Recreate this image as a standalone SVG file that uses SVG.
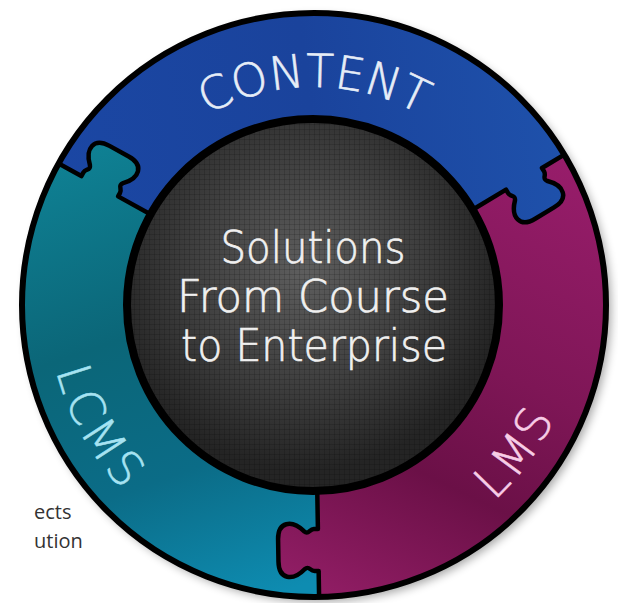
<svg xmlns="http://www.w3.org/2000/svg" xmlns:xlink="http://www.w3.org/1999/xlink" width="618" height="603" viewBox="0 0 618 603">
<style>
.joint{fill:none;stroke:#000;stroke-width:4.5;stroke-linejoin:round;stroke-linecap:round}
.lbl{font-family:"DejaVu Sans","Liberation Sans",sans-serif;font-weight:200;stroke-width:0.6}
.ctr{font-family:"DejaVu Sans","Liberation Sans",sans-serif;font-weight:200;font-size:45px;fill:#f0f0f0;stroke:#f0f0f0;stroke-width:0.7;text-anchor:middle}
.side{font-family:"Open Sans","Liberation Sans",sans-serif;font-size:20px;fill:#333}
</style>
<defs>
  <linearGradient id="g-blue" gradientUnits="userSpaceOnUse" x1="40" y1="220" x2="600" y2="150">
    <stop offset="0" stop-color="#1b47a4"/>
    <stop offset="0.5" stop-color="#1a439c"/>
    <stop offset="1" stop-color="#1f53ad"/>
  </linearGradient>
  <linearGradient id="g-teal" gradientUnits="userSpaceOnUse" x1="100" y1="140" x2="260" y2="600">
    <stop offset="0" stop-color="#0f8194"/>
    <stop offset="0.4" stop-color="#0b6678"/>
    <stop offset="0.7" stop-color="#0b6c87"/>
    <stop offset="1" stop-color="#0e8cb1"/>
  </linearGradient>
  <linearGradient id="g-mag" gradientUnits="userSpaceOnUse" x1="560" y1="150" x2="340" y2="600">
    <stop offset="0" stop-color="#981d6b"/>
    <stop offset="0.45" stop-color="#7e1656"/>
    <stop offset="0.7" stop-color="#6b1047"/>
    <stop offset="1" stop-color="#901d64"/>
  </linearGradient>
  <radialGradient id="g-hub" gradientUnits="userSpaceOnUse" cx="305" cy="270" r="200">
    <stop offset="0" stop-color="#5e5e5e"/>
    <stop offset="0.6" stop-color="#3d3d3d"/>
    <stop offset="1" stop-color="#242424"/>
  </radialGradient>
  <pattern id="grid" patternUnits="userSpaceOnUse" width="5" height="5">
    <path d="M5 0V5M0 5H5" fill="none" stroke="#000" stroke-opacity="0.28" stroke-width="1"/>
  </pattern>
  <filter id="shadow" x="-10%" y="-10%" width="120%" height="120%">
    <feGaussianBlur stdDeviation="5"/>
  </filter>
  <path id="knob" d="M224 -1 L224 4 C224 9 230 9 226 14 C214 26 216 40 234 40 L256 40 C274 40 276 26 264 14 C260 9 266 9 266 4 L266 -1 Z"/>
  <mask id="m-teal" maskUnits="userSpaceOnUse" x="0" y="0" width="618" height="603">
    <path d="M314 305 L319.76 634.95 A330 330 0 0 1 25.38 145.01 Z" fill="#fff"/>
    <use xlink:href="#knob" href="#knob" fill="#000" transform="translate(314 305) rotate(89)"/>
    <use xlink:href="#knob" href="#knob" fill="#fff" transform="translate(314 305) rotate(209)"/>
  </mask>
  <mask id="m-blue" maskUnits="userSpaceOnUse" x="0" y="0" width="618" height="603">
    <path d="M314 305 L25.38 145.01 A330 330 0 0 1 596.87 135.04 Z" fill="#fff"/>
    <use xlink:href="#knob" href="#knob" fill="#000" transform="translate(314 305) rotate(209)"/>
    <use xlink:href="#knob" href="#knob" fill="#fff" transform="translate(314 305) rotate(329)"/>
  </mask>
  <mask id="m-mag" maskUnits="userSpaceOnUse" x="0" y="0" width="618" height="603">
    <path d="M314 305 L596.87 135.04 A330 330 0 0 1 319.76 634.95 Z" fill="#fff"/>
    <use xlink:href="#knob" href="#knob" fill="#000" transform="translate(314 305) rotate(329)"/>
    <use xlink:href="#knob" href="#knob" fill="#fff" transform="translate(314 305) rotate(89)"/>
  </mask>
  <path id="arc-top" d="M96 305 A218 218 0 0 1 532 305"/>
  <path id="arc-bot" d="M48 305 A266 266 0 0 0 580 305"/>
  <path id="joint-line" d="M186 0 L224 0 L224 4 C224 9 230 9 226 14 C214 26 216 40 234 40 L256 40 C274 40 276 26 264 14 C260 9 266 9 266 4 L266 0 L292 0"/>
</defs>

<rect width="618" height="603" fill="#fff"/>
<circle cx="318" cy="309" r="293" fill="#000" opacity="0.35" filter="url(#shadow)"/>

<g id="content">
  <circle cx="314" cy="305" r="293" fill="url(#g-blue)" mask="url(#m-blue)"/>
  <text class="lbl" font-size="46" fill="#e6edf7" stroke="#e6edf7"><textPath xlink:href="#arc-top" href="#arc-top" startOffset="50%" text-anchor="middle">CONTENT</textPath></text>
</g>
<g id="lcms">
  <circle cx="314" cy="305" r="293" fill="url(#g-teal)" mask="url(#m-teal)"/>
  <text class="lbl" font-size="47" fill="#a6e3f2" stroke="#a6e3f2" letter-spacing="3"><textPath xlink:href="#arc-bot" href="#arc-bot" startOffset="137" text-anchor="middle">LCMS</textPath></text>
</g>
<g id="lms">
  <circle cx="314" cy="305" r="293" fill="url(#g-mag)" mask="url(#m-mag)"/>
  <text class="lbl" font-size="47" fill="#f7cde6" stroke="#f7cde6" letter-spacing="3"><textPath xlink:href="#arc-bot" href="#arc-bot" startOffset="668" text-anchor="middle">LMS</textPath></text>
</g>

<g id="connectors">
  <circle cx="314" cy="305" r="292" fill="none" stroke="#000" stroke-width="6"/>
  <use xlink:href="#joint-line" href="#joint-line" class="joint" transform="translate(314 305) rotate(89)"/>
  <use xlink:href="#joint-line" href="#joint-line" class="joint" transform="translate(314 305) rotate(209)"/>
  <use xlink:href="#joint-line" href="#joint-line" class="joint" transform="translate(314 305) rotate(329)"/>
</g>

<g id="hub">
  <circle cx="313" cy="305" r="186" fill="url(#g-hub)"/>
  <circle cx="313" cy="305" r="186" fill="url(#grid)"/>
  <circle cx="313" cy="305" r="186" fill="none" stroke="#000" stroke-width="8"/>
  <text class="ctr" x="313" y="263" textLength="185" lengthAdjust="spacingAndGlyphs">Solutions</text>
  <text class="ctr" x="313" y="312" textLength="272" lengthAdjust="spacingAndGlyphs">From Course</text>
  <text class="ctr" x="314" y="361" textLength="266" lengthAdjust="spacingAndGlyphs">to Enterprise</text>
</g>

<g id="page-text">
  <text class="side" x="34" y="519">ects</text>
  <text class="side" x="34" y="548">ution</text>
</g>
</svg>
